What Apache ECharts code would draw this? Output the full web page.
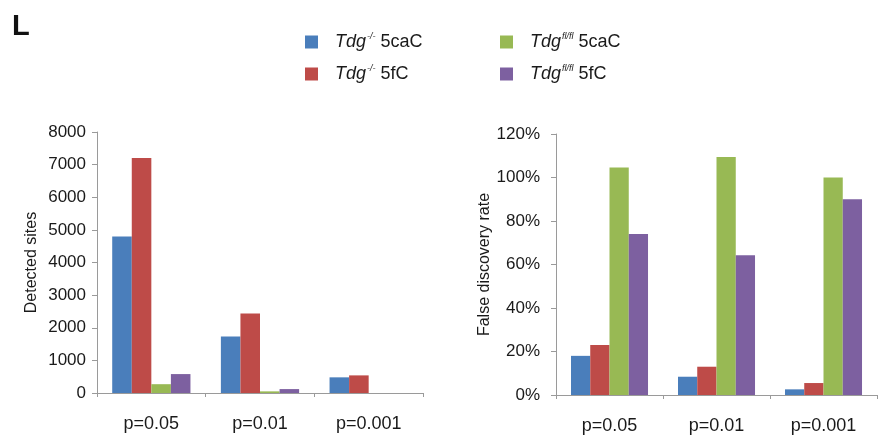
<!DOCTYPE html>
<html>
<head>
<meta charset="utf-8">
<script src="https://cdn.jsdelivr.net/npm/echarts@6/dist/echarts.min.js"></script>
<style>
  html, body { margin: 0; padding: 0; background: #fff; }
  #chart { width: 883px; height: 439px; }
</style>
</head>
<body>
<div id="chart"></div>
<script>
// Significance thresholds shown along both x axes
const categories = ['p=0.05', 'p=0.01', 'p=0.001'];

// Legend / series names
const seriesNames = ['Tdg-/- 5caC', 'Tdg-/- 5fC', 'Tdgfl/fl 5caC', 'Tdgfl/fl 5fC'];
const seriesColors = ['#4a7ebb', '#be4b48', '#98b954', '#7d60a0'];

// Detected sites (left panel)
const sitesKo5caC = [4800, 1730, 480];
const sitesKo5fC = [7200, 2440, 540];
const sitesFl5caC = [270, 50, 0];
const sitesFl5fC = [580, 120, 0];

// False discovery rate, in percent (right panel)
const fdrKo5caC = [18, 8.4, 2.6];
const fdrKo5fC = [23, 13, 5.5];
const fdrFl5caC = [104.6, 109.4, 100];
const fdrFl5fC = [74, 64.3, 90];

const sitesTicks = { min: 0, max: 8000, interval: 1000 };
const fdrTicks = { min: 0, max: 120, interval: 20 };

const textColor = '#1a1a1a';
const axisColor = '#9a9a9a';
const fontFamily = 'Liberation Sans, Arial, sans-serif';

const chart = echarts.init(document.getElementById('chart'));

function xAxisCfg(gridIndex) {
  return {
    type: 'category',
    gridIndex: gridIndex,
    data: categories,
    axisLine: { lineStyle: { color: axisColor, width: 1 } },
    axisTick: { show: true, length: 4, lineStyle: { color: axisColor } },
    axisLabel: { color: textColor, fontSize: 18, fontFamily: fontFamily, margin: 22 }
  };
}

function yAxisCfg(gridIndex, ticks, name, fmt, nameGap, labelMargin) {
  return {
    type: 'value',
    gridIndex: gridIndex,
    min: ticks.min, max: ticks.max, interval: ticks.interval,
    name: name,
    nameLocation: 'middle',
    nameGap: nameGap,
    nameTextStyle: { color: textColor, fontSize: 16, fontFamily: fontFamily },
    axisLine: { show: true, lineStyle: { color: axisColor, width: 1 } },
    axisTick: { show: true, length: 5, lineStyle: { color: axisColor } },
    splitLine: { show: false },
    axisLabel: { color: textColor, fontSize: 17, fontFamily: fontFamily, margin: labelMargin, formatter: fmt }
  };
}

function barSeries(name, data, color, idx) {
  return {
    name: name,
    type: 'bar',
    xAxisIndex: idx,
    yAxisIndex: idx,
    data: data,
    barGap: '0%',
    barCategoryGap: '28%',
    itemStyle: { color: color },
    emphasis: { disabled: true }
  };
}

const legendRich = {
  i: { fontStyle: 'italic', fontSize: 18, fontFamily: fontFamily, color: textColor, lineHeight: 20 },
  s: { fontStyle: 'italic', fontSize: 9, fontFamily: fontFamily, color: textColor, verticalAlign: 'top', padding: [0, 0, 9, 1] },
  t: { fontSize: 18, fontFamily: fontFamily, color: textColor, lineHeight: 20 }
};

function legendFormatter(name) {
  const m = name.match(/^(Tdg)(\S+) (.*)$/);
  return '{i|' + m[1] + '}{s|' + m[2] + '}{t| ' + m[3] + '}';
}

// One legend block per entry so each sits in its own column/row slot
function legendCfg(name, left, top) {
  return {
    data: [name],
    left: left,
    top: top,
    padding: 0,
    itemWidth: 13,
    itemHeight: 13,
    icon: 'rect',
    formatter: legendFormatter,
    textStyle: { rich: legendRich, padding: [0, 0, 0, 12] },
    selectedMode: false
  };
}

chart.setOption({
  animation: false,
  backgroundColor: '#fff',
  title: {
    text: 'L',
    left: 7,
    top: 7,
    textStyle: { fontSize: 29, fontWeight: 'bold', color: '#111', fontFamily: fontFamily }
  },
  legend: [
    legendCfg(seriesNames[0], 305, 32),
    legendCfg(seriesNames[1], 305, 64),
    legendCfg(seriesNames[2], 500, 32),
    legendCfg(seriesNames[3], 500, 64)
  ],
  grid: [
    { left: 97, right: 460, top: 132, bottom: 46 },
    { left: 556, right: 6, top: 134, bottom: 44 }
  ],
  xAxis: [xAxisCfg(0), xAxisCfg(1)],
  yAxis: [
    yAxisCfg(0, sitesTicks, 'Detected sites', function (v) { return String(v); }, 57, 11),
    yAxisCfg(1, fdrTicks, 'False discovery rate', '{value}%', 63, 16)
  ],
  series: [
    barSeries(seriesNames[0], sitesKo5caC, seriesColors[0], 0),
    barSeries(seriesNames[1], sitesKo5fC, seriesColors[1], 0),
    barSeries(seriesNames[2], sitesFl5caC, seriesColors[2], 0),
    barSeries(seriesNames[3], sitesFl5fC, seriesColors[3], 0),
    barSeries(seriesNames[0], fdrKo5caC, seriesColors[0], 1),
    barSeries(seriesNames[1], fdrKo5fC, seriesColors[1], 1),
    barSeries(seriesNames[2], fdrFl5caC, seriesColors[2], 1),
    barSeries(seriesNames[3], fdrFl5fC, seriesColors[3], 1)
  ]
});
</script>
</body>
</html>
